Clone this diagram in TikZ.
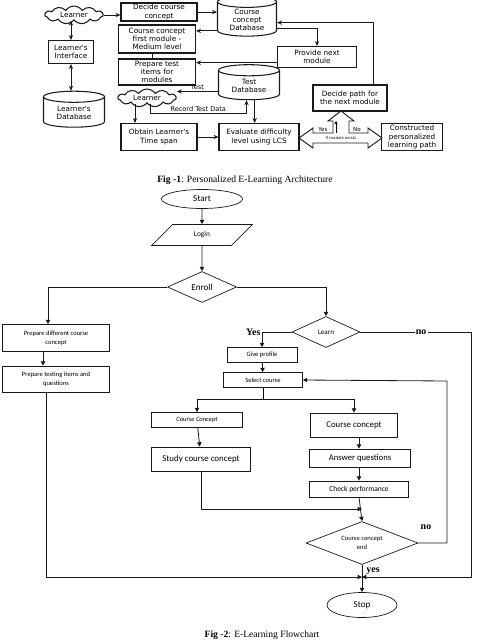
\documentclass[tikz,border=0pt]{standalone}
\usepackage{fontspec}
\setmainfont{Liberation Serif}
\newfontfamily\archfont{DejaVu Sans}
\newfontfamily\flowfont{Carlito}
\usepackage{tikz}
\usetikzlibrary{arrows.meta,positioning,calc,shapes.geometric,shapes.symbols}
\definecolor{ink}{HTML}{1A1A1A}
\tikzset{
  abox/.style={draw=ink,line width=0.9pt,align=center,inner sep=1pt,fill=white,
    font=\archfont\fontsize{6.2}{7}\selectfont},
  acyl/.style={abox,cylinder,shape border rotate=90,aspect=0.3},
  acloud/.style={abox,cloud,cloud puffs=11,cloud puff arc=110,aspect=3.5},
  aarr/.style={-{Stealth[length=1.5mm,width=1.3mm]},line width=0.8pt,draw=ink},
  adbl/.style={aarr,{Stealth[length=1.5mm,width=1.3mm]}-{Stealth[length=1.5mm,width=1.3mm]}},
  alab/.style={font=\archfont\fontsize{5.6}{6}\selectfont,inner sep=1pt},
  fbox/.style={draw=ink,line width=0.6pt,align=center,inner sep=1pt,
    font=\flowfont\fontsize{5.6}{7.5}\selectfont},
  fdia/.style={fbox,diamond,inner sep=0pt},
  farr/.style={-{Triangle[length=1.3mm,width=1.3mm]},line width=0.7pt,draw=ink},
  yn/.style={font=\bfseries\fontsize{8.5}{9}\selectfont,inner sep=1pt},
  figcap/.style={font=\fontsize{8.2}{10}\selectfont,inner sep=0pt}
}

\begin{document}
\begin{tikzpicture}[x=0.3mm,y=-0.3mm]
 \useasboundingbox (0,0) rectangle (480,640);
 % architecture
 \node[acloud,minimum width=17.4mm,minimum height=4.8mm] (lrn1) at (74,15) {Learner};
 \node[abox,minimum width=13.5mm,minimum height=6.9mm] (lint) at (71,52) {Learner's\\Interface};
 \node[acyl,minimum width=18.3mm,minimum height=10.8mm] (ldb) at (74,113) {Learner's\\Database};
 \node[abox,minimum width=22.8mm,minimum height=5.4mm] (dcc) at (159,12) {Decide course\\concept};
 \node[acyl,minimum width=17.7mm,minimum height=10.5mm] (ccdb) at (247,20) {Course\\concept\\Database};
 \node[abox,minimum width=23.1mm,minimum height=8.4mm] (cfm) at (157,39) {Course concept\\first module -\\Medium level};
 \node[abox,minimum width=23.1mm,minimum height=7.8mm] (pti) at (157,72) {Prepare test\\items for\\modules};
 \node[abox,minimum width=23.7mm,minimum height=6.3mm] (pnm) at (317,57) {Provide next\\module};
 \node[acyl,minimum width=18.3mm,minimum height=10.5mm] (tdb) at (249,86) {Test\\Database};
 \node[acloud,minimum width=17.4mm,minimum height=4.8mm] (lrn2) at (147,98) {Learner};
 \node[abox,minimum width=22.8mm,minimum height=8.1mm] (obt) at (159,137) {Obtain Learner's\\Time span};
 \node[abox,minimum width=24mm,minimum height=8.1mm] (eval) at (259,137) {Evaluate difficulty\\level using LCS};
 \node[abox,minimum width=22.2mm,minimum height=7.8mm] (dpn) at (350,98) {Decide path for\\the next module};
 \node[abox,minimum width=18.3mm,minimum height=8.1mm] (cpl) at (412,137) {Constructed\\personalized\\learning path};

 \draw[adbl] (lint.north) -- (lint.north |- lrn1.south);
 \draw[adbl] (lint.south) -- (lint.south |- ldb.north);
 \draw[aarr] (lrn1.east) -- (lrn1.east -| dcc.west);
 \draw[aarr] (dcc.east) -- (dcc.east -| ccdb.180);
 \draw[aarr] (ccdb.200) -- (ccdb.200 -| cfm.east);
 \draw[line width=0.8pt,draw=ink] ([xshift=-1.5mm]cfm.south) -- ([xshift=-1.5mm]pti.north);
 \draw[aarr] (ccdb.-15) -| (pnm.north);
 \draw[aarr] (pnm.188) -- (pnm.188 -| pti.east);
 \draw[aarr] ([xshift=6.9mm]dpn.north) |- (ccdb.-5);
 \draw[aarr] (tdb.190) -- node[alab,above] (tst) {Test} (tdb.190 -| lrn2.east);
 \coordinate (rtd) at (150,113);
 \draw[aarr] (rtd |- lrn2.south) -- (rtd) -| node[alab,pos=0.25,above] (rec) {Record Test Data} (tdb.260);
 \draw[aarr] (tdb.292) -- (tdb.292 |- eval.north);
 \draw[aarr] ([xshift=-3.6mm]lrn2.south) -- ([xshift=-3.6mm]lrn2.south |- obt.north);
 \draw[aarr] (obt.east) -- (eval.west);
 \draw[line width=0.8pt,draw=ink,fill=white] (299,138) -- (313,128) -- (313,133) -- (333,133) -- (333,121)
   -- (328,121) -- (341,111) -- (354,121) -- (349,121) -- (349,133) -- (368,133) -- (368,128)
   -- (382,138) -- (368,148) -- (368,143) -- (313,143) -- (313,148) -- cycle;
 \draw[-{Stealth[length=1mm,width=1mm]},line width=0.5pt] (336,133) -- (336,121);
 \node[alab,font=\archfont\fontsize{4.8}{5}\selectfont] (yes1) at (323,129) {Yes};
 \node[alab,font=\archfont\fontsize{4.8}{5}\selectfont] (no1) at (357,129) {No};
 \node[alab,font=\archfont\fontsize{3.3}{4}\selectfont] (ifm) at (341,138.5) {If module exists};
 \node[figcap] (cap1) at (245,180) {\textbf{Fig -1}: Personalized E-Learning Architecture};

 % flowchart
 \node[fbox,ellipse,minimum width=24.3mm,minimum height=5.7mm,font=\flowfont\fontsize{7.7}{9}\selectfont] (start) at (202,199) {Start};
 \node[fbox,trapezium,trapezium left angle=53,trapezium right angle=127,trapezium stretches=true,
   minimum width=30.3mm,minimum height=6.3mm,font=\flowfont\fontsize{6.3}{8}\selectfont] (login) at (202,235) {Login};
 \node[fdia,aspect=2.2,minimum width=20.7mm,minimum height=9.3mm,font=\flowfont\fontsize{7.8}{9}\selectfont] (enroll) at (202,287) {Enroll};
 \node[fbox,minimum width=32.1mm,minimum height=8.1mm] (prep1) at (56,338) {Prepare different course\\concept};
 \node[fbox,minimum width=32.1mm,minimum height=7.8mm] (prep2) at (56,379) {Prepare testing items and\\questions};
 \node[fdia,aspect=2.2,minimum width=20.4mm,minimum height=9.3mm,font=\flowfont\fontsize{6}{7}\selectfont] (learn) at (326,332) {Learn};
 \node[fbox,minimum width=21mm,minimum height=4.5mm] (give) at (262,355) {Give profile};
 \node[fbox,minimum width=23.7mm,minimum height=4.5mm] (sel) at (263,380) {Select course};
 \node[fbox,minimum width=27.3mm,minimum height=4.5mm,font=\flowfont\itshape\fontsize{5.6}{6}\selectfont] (cc1) at (197,420) {Course Concept};
 \node[fbox,minimum width=29.7mm,minimum height=7.2mm,font=\flowfont\fontsize{7.6}{9}\selectfont] (study) at (201,459) {Study course concept};
 \node[fbox,minimum width=26.1mm,minimum height=7.2mm,font=\flowfont\fontsize{7.5}{9}\selectfont] (cc2) at (354,425) {Course concept};
 \node[fbox,minimum width=30.3mm,minimum height=5.4mm,font=\flowfont\fontsize{7.4}{9}\selectfont] (ans) at (360,458) {Answer questions};
 \node[fbox,minimum width=29.7mm,minimum height=4.8mm,font=\flowfont\fontsize{6.4}{8}\selectfont] (chk) at (359,489) {Check performance};
 \node[fdia,aspect=2.6,minimum width=33.6mm,minimum height=12.9mm] (cend) at (362,543) {Course concept\\end};
 \node[fbox,ellipse,minimum width=21mm,minimum height=7.5mm,font=\flowfont\fontsize{7.7}{9}\selectfont] (stop) at (362,605) {Stop};
 \coordinate (jn) at (362,577);
 \coordinate (jn2) at (362,509);
 \coordinate (spl) at (263,399);
 \coordinate (nor) at (471,577);
 \coordinate (bk) at (447,381);

 \draw[farr] (start) -- (login);
 \draw[farr] (login) -- (enroll);
 \draw[farr] (enroll.west) -| ([xshift=-2.4mm]prep1.north);
 \draw[farr] ([xshift=-3.9mm]prep1.south) -- ([xshift=-3.9mm]prep2.north);
 \draw[farr] ([xshift=-3mm]prep2.south) |- (jn);
 \draw[farr] (enroll.east) -| (learn.north);
 \draw[farr] (learn.west) -| node[yn,pos=0.5,left] (yes2) {Yes} (give.north);
 \draw[farr] (learn.east) -| node[yn,pos=0.275,fill=white] (no2) {no} (nor) -- (jn);
 \draw[farr] (give) -- (sel);
 \draw (sel.south) -- (spl);
 \draw[farr] (spl) -| (cc1.north);
 \draw[farr] (spl) -| (cc2.north);
 \draw[farr] (cc1) -- (study);
 \draw[farr] (study.south) |- (jn2);
 \draw[farr] (cc2.south -| chk.north) -- (ans.north -| chk.north);
 \draw[farr] (ans.south -| chk.north) -- (chk.north);
 \draw[farr] (chk.south) -- (cend.north);
 \draw[line width=0.7pt,draw=ink] (cend.south) -- (jn);
 \draw[farr] (jn) -- (stop.north);
 \node[yn] (yes3) at (373,571) {yes};
 \draw[farr] (cend.east) -| (bk) -- (sel.east);
 \node[yn] (no3) at (426,527) {no};
 \node[figcap] (cap2) at (262,635) {\textbf{Fig -2}: E-Learning Flowchart};
\end{tikzpicture}
\end{document}
